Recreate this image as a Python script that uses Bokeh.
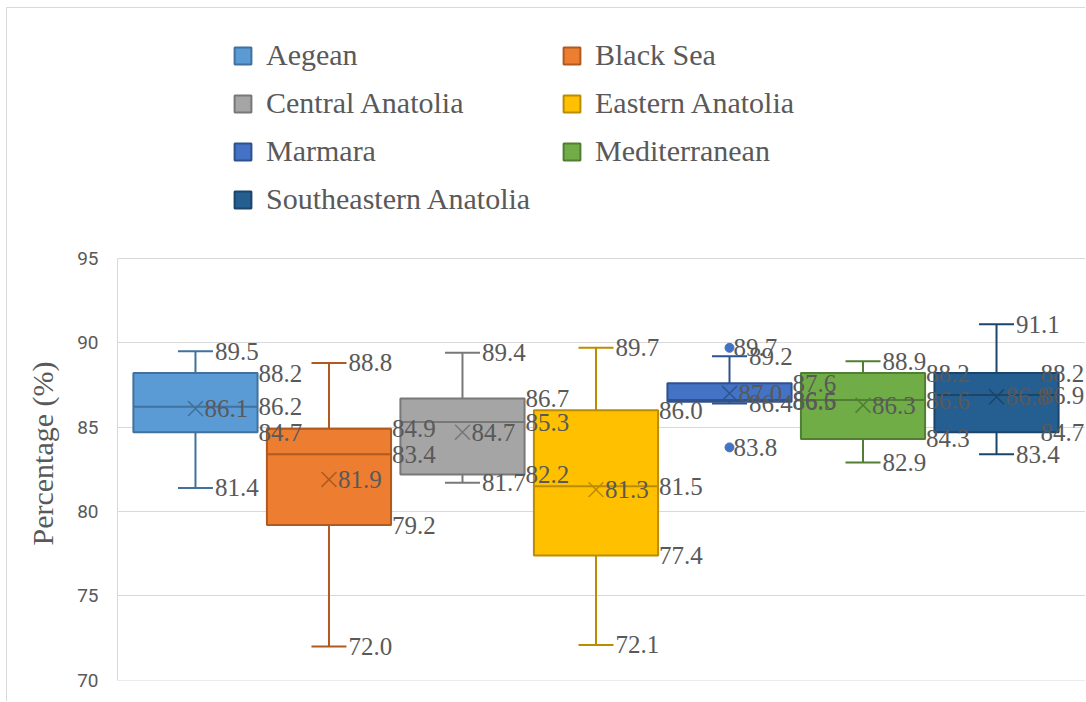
from bokeh.plotting import figure
from bokeh.models import (ColumnDataSource, Range1d, Legend, LegendItem, Title,
                          SingleIntervalTicker)
from bokeh.core.properties import value
from bokeh.embed import file_html
from bokeh.resources import INLINE

# ---------------- data ----------------
regions = ["Aegean", "Black Sea", "Central Anatolia", "Eastern Anatolia",
           "Marmara", "Mediterranean", "Southeastern Anatolia"]
whisker_low = [81.4, 72.0, 81.7, 72.1, 86.4, 82.9, 83.4]
q1 = [84.7, 79.2, 82.2, 77.4, 86.5, 84.3, 84.7]
median = [86.2, 83.4, 85.3, 81.5, 86.6, 86.6, 86.9]
q3 = [88.2, 84.9, 86.7, 86.0, 87.6, 88.2, 88.2]
whisker_high = [89.5, 88.8, 89.4, 89.7, 89.2, 88.9, 91.1]
mean = [86.1, 81.9, 84.7, 81.3, 87.0, 86.3, 86.8]
outlier_region = ["Marmara", "Marmara"]
outlier_values = [89.7, 83.8]

fill_colors = ["#5B9BD5", "#ED7D31", "#A5A5A5", "#FFC000", "#4472C4", "#70AD47", "#255E91"]
line_colors = ["#41719C", "#AE5A21", "#787878", "#BC8C00", "#2F528F", "#507E32", "#1B4569"]

# ---------------- layout ----------------
BOX_HW = 0.465
CAP_HW = 0.131
LABEL_COLOR = "#595959"
GRID = "#d9d9d9"
Y_MIN, Y_MAX = 70, 95

pos = list(range(len(regions)))

# frame covers the full height (legend lives in its upper, empty part)
p = figure(width=1079, height=694, output_backend="svg", toolbar_location=None,
           x_range=Range1d(-0.584, 6.674), y_range=Range1d(69.99, 109.80),
           min_border_left=110, min_border_right=0, min_border_top=0, min_border_bottom=22,
           background_fill_color="white", border_fill_color="white")
p.outline_line_color = None
p.styles = {"margin-left": "6px", "margin-top": "7px",
            "border-left": "1px solid #d9d9d9", "border-top": "1px solid #d9d9d9"}

p.xaxis.visible = False
p.xgrid.visible = False
p.ygrid.grid_line_color = GRID
p.ygrid.grid_line_width = 1
p.ygrid.bounds = (Y_MIN, Y_MAX)

yax = p.yaxis[0]
yax.ticker = SingleIntervalTicker(interval=5)
yax.bounds = (Y_MIN, Y_MAX)
yax.axis_line_color = GRID
yax.major_tick_line_color = None
yax.minor_tick_line_color = None
yax.major_tick_out = 0
yax.major_tick_in = 0
yax.major_label_text_font = "Roboto"
yax.major_label_text_font_size = "19px"
yax.major_label_text_color = LABEL_COLOR
yax.major_label_standoff = 15

src = ColumnDataSource(dict(
    x=pos, region=regions, lo=whisker_low, q1=q1, med=median, q3=q3, hi=whisker_high,
    mean=mean, fill=fill_colors, line=line_colors,
    bx0=[i - BOX_HW for i in pos], bx1=[i + BOX_HW for i in pos],
    cx0=[i - CAP_HW for i in pos], cx1=[i + CAP_HW for i in pos],
))

# whiskers
p.segment(x0="x", y0="q3", x1="x", y1="hi", source=src, line_color="line", line_width=2)
p.segment(x0="x", y0="q1", x1="x", y1="lo", source=src, line_color="line", line_width=2)
p.segment(x0="cx0", y0="hi", x1="cx1", y1="hi", source=src, line_color="line", line_width=2)
p.segment(x0="cx0", y0="lo", x1="cx1", y1="lo", source=src, line_color="line", line_width=2)

# boxes
boxes = p.vbar(x="x", width=2 * BOX_HW, top="q3", bottom="q1", source=src,
               fill_color="fill", line_color="line", line_width=2)
# median
p.segment(x0="bx0", y0="med", x1="bx1", y1="med", source=src, line_color="line", line_width=2)
# mean
p.scatter(x="x", y="mean", source=src, marker="x", size=21, line_color="line", line_width=1.5)

# outliers
ox = [regions.index(r) for r in outlier_region]
oc = [fill_colors[regions.index(r)] for r in outlier_region]
p.scatter(x=ox, y=outlier_values, size=9, fill_color=oc, line_color=oc)

# data labels (labels of the last box are pulled back inside the chart area)
last = len(regions) - 1
lx, ly, lt, lo_ = [], [], [], []
for i in pos:
    for v in (whisker_high[i], whisker_low[i]):
        lx.append(i + CAP_HW); ly.append(v); lt.append(f"{v:.1f}"); lo_.append(2)
    for v in (q3[i], median[i], q1[i]):
        lx.append(i + BOX_HW); ly.append(v); lt.append(f"{v:.1f}")
        lo_.append(-18 if i == last else 1)
    lx.append(i); ly.append(mean[i]); lt.append(f"{mean[i]:.1f}"); lo_.append(9)
for xi, v in zip(ox, outlier_values):
    lx.append(xi); ly.append(v); lt.append(f"{v:.1f}"); lo_.append(4)
lab = ColumnDataSource(dict(x=lx, y=ly, text=lt, xoff=lo_))
p.text(x="x", y="y", text="text", x_offset="xoff", source=lab,
       text_font=value("Liberation Serif"), text_font_size="25px",
       text_color=LABEL_COLOR, text_align="left", text_baseline="middle")

# y axis title
p.add_layout(Title(text="Percentage (%)", align="left", offset=135, standoff=32,
                   text_font="Liberation Serif", text_font_size="30px",
                   text_font_style="normal", text_color=LABEL_COLOR), "left")

# legend (two columns, in the empty area above the boxes)
items = [LegendItem(label=regions[i], renderers=[boxes], index=i) for i in pos]
legend = Legend(items=items, location=(115, 463), orientation="horizontal", ncols=2,
                glyph_width=21, glyph_height=21, label_standoff=13, spacing=12,
                label_width=283, label_height=36,
                padding=0, margin=0, border_line_color=None, background_fill_alpha=0,
                label_text_font="Liberation Serif", label_text_font_size="30px",
                label_text_color=LABEL_COLOR)
p.add_layout(legend)

open("out.html", "w").write(file_html(p, INLINE))
